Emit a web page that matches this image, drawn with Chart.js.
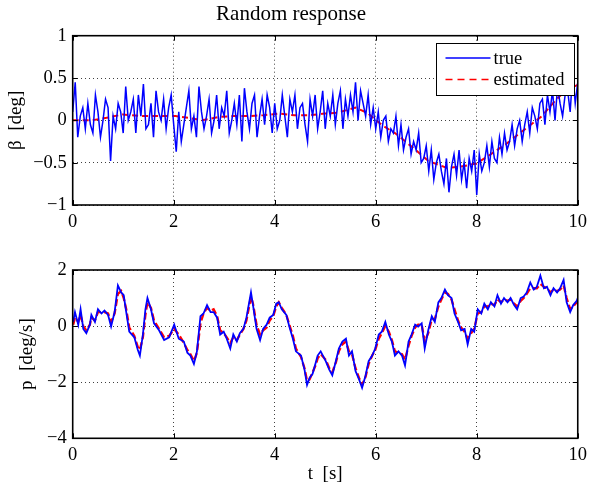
<!DOCTYPE html>
<html>
<head>
<meta charset="utf-8">
<title>Random response</title>
<script src="https://cdn.jsdelivr.net/npm/chart.js@4.4.1/dist/chart.umd.min.js"></script>
<style>
    body { margin: 0; background: #fff; }
    .panel { position: absolute; left: 0; width: 593px; height: 245px; }
    #top { top: 0; }
    #bottom { top: 245px; }
</style>
</head>
<body>
<div class="panel" id="top"><canvas id="betaChart"></canvas></div>
<div class="panel" id="bottom"><canvas id="pChart"></canvas></div>
<script>
// x ticks shared by both panels
const timeTicks = [0, 2, 4, 6, 8, 10];
const betaTicks = [-1, -0.5, 0, 0.5, 1];
const pTicks = [-4, -2, 0, 2];

// sideslip angle, sampled every 0.05 s
const betaTime = Array.from({ length: 201 }, (_, i) => i * 0.05);
const betaTrue = [
    0.1, 0.45, -0.2, 0.05, 0.15, -0.1, 0.2, -0.05, -0.15, 0.3,
    0.1, -0.2, 0.0, 0.25, 0.15, -0.48, 0.05, -0.1, 0.2, 0.1,
    -0.15,
    0.4, 0.0, 0.1, 0.25, -0.15, 0.3, 0.05, 0.43, -0.1, -0.05,
    0.2, -0.2, 0.35, 0.1, 0.0, 0.25, -0.1, 0.15, 0.3, -0.05,
    -0.37, 0.1, -0.25, -0.05, 0.15, 0.35, -0.1, 0.05, -0.2, 0.4,
    0.1, -0.1, 0.05, 0.25, -0.15, 0.0, 0.3, -0.1, 0.15, 0.05,
    0.35, -0.15, 0.0, 0.2, -0.05, 0.3, -0.25, 0.38, 0.1, -0.1,
    0.2, 0.3, -0.2, 0.05, 0.25, -0.05, 0.3, 0.15, -0.15, 0.2,
    -0.1, 0.0, 0.3, 0.05, -0.2, 0.25, 0.1, 0.3, -0.1, 0.15,
    0.2, -0.05, -0.25, 0.25, 0.05, 0.3, -0.1, 0.1, 0.35, -0.1,
    0.2, 0.05, 0.3, -0.05, 0.2, 0.35, -0.1, 0.25, 0.05, 0.3,
    0.1, 0.45, 0.0, 0.35, 0.2, 0.05, 0.3, -0.05, 0.15, -0.1,
    0.1, -0.2, 0.0, 0.05, -0.25, -0.1, -0.15, 0.05, -0.3, -0.05,
    -0.35, -0.2, -0.1, -0.4, -0.25, -0.35, -0.15, -0.5, -0.45, -0.3,
    -0.6, -0.35, -0.7, -0.5, -0.4, -0.6, -0.75, -0.45, -0.85, -0.55,
    -0.4, -0.65, -0.35, -0.7, -0.5, -0.8, -0.45, -0.6, -0.35, -0.88,
    -0.4, -0.6, -0.5, -0.3, -0.55, -0.25, -0.45, -0.5, -0.2, -0.4,
    -0.15, -0.35, -0.25, -0.05, -0.3, -0.1, 0.0, -0.25, -0.05, 0.1,
    -0.15, 0.15, 0.05, -0.1, 0.2, 0.25, -0.05, 0.3, 0.1, 0.35,
    0.0, 0.4, 0.2, 0.05, 0.3, 0.35, 0.1, 0.55, 0.2, 0.45
];
const betaEstTime = [
    0, 0.37, 0.67, 0.99, 1.39, 1.71, 2.04, 2.3, 2.56, 2.89,
    3.18, 3.48, 3.77, 4.08, 4.39, 4.69, 4.98, 5.24, 5.6, 5.83,
    6.03, 6.16, 6.38, 6.61, 6.81, 7.04, 7.4, 7.66, 7.99, 8.18,
    8.38, 8.58, 8.77, 9.03, 9.29, 9.55, 9.75, 10
];
const betaEst = [
    0, 0, 0.03, 0.07, 0.05, 0.05, 0.05, 0.03, 0, 0.04,
    0.05, 0.05, 0.06, 0.08, 0.06, 0.06, 0.08, 0.09, 0.15, 0.09,
    -0.01, -0.07, -0.15, -0.26, -0.36, -0.48, -0.56, -0.55, -0.51, -0.44,
    -0.36, -0.28, -0.19, -0.07, 0.05, 0.23, 0.35, 0.42
];

// roll rate
const pTime = [
    0.01, 0.045, 0.11, 0.156, 0.21, 0.27, 0.34, 0.37, 0.44, 0.5,
    0.57, 0.63, 0.7, 0.76, 0.83, 0.895, 0.96, 1.01, 1.06, 1.12,
    1.22, 1.29, 1.33, 1.39, 1.44, 1.48, 1.55, 1.61, 1.71, 1.81,
    1.91, 2.01, 2.1, 2.2, 2.27, 2.33, 2.4, 2.46, 2.53, 2.59,
    2.66, 2.73, 2.79, 2.86, 2.92, 2.99, 3.05, 3.12, 3.18, 3.25,
    3.31, 3.38, 3.44, 3.53, 3.57, 3.64, 3.71, 3.77, 3.84, 3.9,
    3.97, 4.03, 4.08, 4.14, 4.23, 4.29, 4.36, 4.42, 4.52, 4.59,
    4.64, 4.69, 4.75, 4.82, 4.85, 4.91, 5.01, 5.08, 5.14, 5.21,
    5.27, 5.34, 5.41, 5.47, 5.53, 5.6, 5.67, 5.73, 5.8, 5.86,
    5.93, 5.99, 6.06, 6.12, 6.19, 6.26, 6.32, 6.38, 6.45, 6.52,
    6.58, 6.65, 6.71, 6.78, 6.84, 6.91, 6.97, 7.04, 7.11, 7.17,
    7.24, 7.3, 7.37, 7.43, 7.5, 7.56, 7.63, 7.69, 7.76, 7.82,
    7.89, 7.95, 8.02, 8.09, 8.15, 8.22, 8.28, 8.35, 8.41, 8.48,
    8.54, 8.61, 8.67, 8.74, 8.8, 8.87, 8.93, 8.99, 9.06, 9.13,
    9.19, 9.26, 9.33, 9.39, 9.46, 9.52, 9.59, 9.65, 9.72, 9.78,
    9.85, 9.91, 9.98, 10
];
const pTrue = [
    0.15, 0.5, 0.05, 0.6, -0.1, -0.25, 0.05, 0.4, 0.15, 0.6,
    0.45, 0.55, 0.4, -0.02, 0.5, 1.45, 1.2, 1.1, 0.5, -0.2,
    -0.4, -0.85, -1.05, -0.3, 0.6, 1.0, 0.6, 0.1, -0.15, -0.5,
    -0.4, 0.05, -0.45, -0.55, -0.95, -1.05, -1.35, -0.9, 0.35, 0.45,
    0.75, 0.5, 0.5, 0.3, -0.3, -0.2, -0.45, -0.8, -0.3, -0.55,
    -0.25, -0.1, 0.3, 1.2, 0.75, -0.1, -0.5, -0.1, 0.05, 0.3,
    0.4, 0.8, 0.85, 0.6, 0.4, -0.02, -0.45, -0.9, -1.05, -1.55,
    -2.1, -1.85, -1.7, -1.25, -1.05, -0.9, -1.25, -1.55, -1.75, -1.25,
    -0.8, -0.55, -0.45, -1.05, -0.9, -1.6, -1.9, -2.2, -1.75, -1.25,
    -1.05, -0.8, -0.3, -0.2, 0.15, -0.3, -0.55, -1.05, -0.9, -1.05,
    -1.4, -0.55, -0.3, 0.05, -0.02, 0.1, -0.8, -0.15, 0.35, 0.15,
    0.85, 1.0, 1.3, 1.1, 1.0, 0.45, 0.15, -0.15, -0.1, -0.65,
    -0.1, -0.2, 0.6, 0.45, 0.8, 0.6, 0.85, 0.7, 1.1, 0.8,
    1.0, 0.85, 1.0, 0.75, 0.6, 1.0, 1.05, 1.2, 1.55, 1.3,
    1.4, 1.8, 1.35, 1.4, 1.1, 1.35, 1.2, 1.35, 1.65, 0.85,
    0.5, 0.75, 0.9, 1.0
];
const pEst = [
    0.05, 0.3, 0.15, 0.4, 0.0, -0.15, 0.05, 0.3, 0.2, 0.5,
    0.5, 0.5, 0.45, 0.15, 0.45, 1.15, 1.25, 1.0, 0.6, -0.05,
    -0.35, -0.75, -0.85, -0.4, 0.4, 0.85, 0.65, 0.2, -0.1, -0.4,
    -0.35, -0.1, -0.3, -0.6, -0.85, -1.0, -1.25, -0.95, 0.1, 0.45,
    0.65, 0.55, 0.6, 0.35, -0.15, -0.25, -0.4, -0.6, -0.4, -0.5,
    -0.3, -0.1, 0.2, 1.05, 0.8, 0.05, -0.3, -0.15, -0.05, 0.2,
    0.35, 0.7, 0.85, 0.65, 0.4, 0.05, -0.35, -0.8, -1.1, -1.5,
    -1.95, -1.9, -1.65, -1.35, -1.15, -1.0, -1.2, -1.5, -1.65, -1.3,
    -0.9, -0.65, -0.55, -0.9, -1.0, -1.5, -1.85, -2.1, -1.8, -1.35,
    -1.05, -0.85, -0.45, -0.25, 0.0, -0.2, -0.5, -0.9, -0.95, -1.0,
    -1.2, -0.7, -0.35, -0.05, 0.05, 0.05, -0.55, -0.25, 0.25, 0.25,
    0.7, 0.95, 1.2, 1.15, 0.95, 0.6, 0.2, -0.05, -0.2, -0.45,
    -0.25, -0.1, 0.45, 0.5, 0.7, 0.7, 0.8, 0.75, 0.95, 0.85,
    0.95, 0.9, 0.95, 0.8, 0.7, 0.9, 1.0, 1.15, 1.35, 1.35,
    1.35, 1.5, 1.4, 1.35, 1.2, 1.3, 1.25, 1.3, 1.45, 1.0,
    0.6, 0.7, 0.85, 0.9
];

Chart.defaults.font.family = "'Liberation Serif', 'Times New Roman', serif";
Chart.defaults.font.size = 18.5;
Chart.defaults.color = '#000';

function toPoints(xs, ys) {
    return xs.map((x, i) => ({ x: x, y: ys[i] }));
}

function formatTick(value) {
    const v = Math.round(value * 100) / 100;
    return v < 0 ? '\u2212' + Math.abs(v) : String(v);
}

// MATLAB style box with inward ticks on all four sides
const framePlugin = {
    id: 'frame',
    afterDatasetsDraw(chart) {
        const { ctx, chartArea: a, scales } = chart;
        ctx.save();
        ctx.strokeStyle = '#000';
        ctx.lineWidth = 1;
        ctx.beginPath();
        scales.x.ticks.forEach(t => {
            const px = Math.round(scales.x.getPixelForValue(t.value)) + 0.5;
            ctx.moveTo(px, a.bottom); ctx.lineTo(px, a.bottom - 5);
            ctx.moveTo(px, a.top); ctx.lineTo(px, a.top + 5);
        });
        scales.y.ticks.forEach(t => {
            const py = Math.round(scales.y.getPixelForValue(t.value)) + 0.5;
            ctx.moveTo(a.left, py); ctx.lineTo(a.left + 5, py);
            ctx.moveTo(a.right, py); ctx.lineTo(a.right - 5, py);
        });
        ctx.stroke();
        ctx.lineWidth = 1.6;
        ctx.strokeRect(a.left, a.top, a.width, a.height);
        ctx.restore();
    }
};

const boxLegendPlugin = {
    id: 'boxLegend',
    afterDraw(chart) {
        const ctx = chart.ctx;
        const x0 = 436.5, y0 = 43.5, w = 138, h = 52;
        ctx.save();
        ctx.fillStyle = '#fff';
        ctx.fillRect(x0, y0, w, h);
        ctx.strokeStyle = '#000';
        ctx.lineWidth = 1;
        ctx.strokeRect(x0, y0, w, h);
        ctx.font = "18.5px 'Liberation Serif', serif";
        ctx.textBaseline = 'middle';
        chart.data.datasets.forEach((ds, i) => {
            const y = y0 + 14.5 + i * 21.5;
            ctx.strokeStyle = ds.borderColor;
            ctx.lineWidth = 1.5;
            ctx.setLineDash(ds.borderDash ? [7, 5] : []);
            ctx.beginPath();
            ctx.moveTo(x0 + 9, y);
            ctx.lineTo(x0 + 54, y);
            ctx.stroke();
            ctx.setLineDash([]);
            ctx.fillStyle = '#000';
            ctx.fillText(ds.label, x0 + 57, y + 1);
        });
        ctx.restore();
    }
};

function makeScales(yMin, yMax, yTicks, yTitle, yTitlePad, xHeight, xTitle) {
    return {
        x: {
            type: 'linear',
            min: 0,
            max: 10,
            afterBuildTicks: scale => { scale.ticks = timeTicks.map(v => ({ value: v })); },
            afterFit: scale => { scale.height = xHeight; },
            ticks: { autoSkip: false, maxRotation: 0, padding: 6, callback: formatTick },
            grid: { color: 'rgba(0,0,0,0.75)', lineWidth: 1, drawTicks: false },
            border: { display: false, dash: [1, 3] },
            title: {
                display: !!xTitle,
                text: xTitle || '',
                font: { size: 19 },
                padding: { top: 0, bottom: 4.5 }
            }
        },
        y: {
            type: 'linear',
            min: yMin,
            max: yMax,
            afterBuildTicks: scale => { scale.ticks = yTicks.map(v => ({ value: v })); },
            afterFit: scale => { scale.width = 72.7; },
            ticks: { autoSkip: false, padding: 6, callback: formatTick },
            grid: { color: 'rgba(0,0,0,0.75)', lineWidth: 1, drawTicks: false },
            border: { display: false, dash: [1, 3] },
            title: {
                display: true,
                text: yTitle,
                font: { size: 19 },
                padding: { top: yTitlePad, bottom: 0 }
            }
        }
    };
}

const commonOptions = {
    responsive: false,
    animation: false,
    events: [],
    elements: { point: { radius: 0 }, line: { tension: 0 } }
};

function buildChart(canvasId, datasets, scales, padding, title, plugins) {
    const canvas = document.getElementById(canvasId);
    canvas.width = 593;
    canvas.height = 245;
    return new Chart(canvas.getContext('2d'), {
        type: 'line',
        data: { datasets: datasets },
        options: {
            ...commonOptions,
            layout: { padding: padding },
            scales: scales,
            plugins: {
                legend: { display: false },
                tooltip: { enabled: false },
                title: title
            }
        },
        plugins: plugins
    });
}

buildChart('betaChart', [
    {
        label: 'true',
        data: toPoints(betaTime, betaTrue),
        borderColor: '#0000ff',
        borderWidth: 1.5
    },
    {
        label: 'estimated',
        data: toPoints(betaEstTime, betaEst),
        borderColor: '#ff0000',
        borderWidth: 2,
        borderDash: [6, 4]
    }
], makeScales(-1, 1, betaTicks, '\u03b2  [deg]', 4.6, 40, null),
    { left: 0, right: 11, top: 0, bottom: 0 },
    {
        display: true,
        text: 'Random response',
        font: { size: 21, weight: 'normal' },
        padding: { top: 1.4, bottom: 9.1 }
    },
    [framePlugin, boxLegendPlugin]);

buildChart('pChart', [
    {
        label: 'true',
        data: toPoints(pTime, pTrue),
        borderColor: '#0000ff',
        borderWidth: 1.8
    },
    {
        label: 'estimated',
        data: toPoints(pTime, pEst),
        borderColor: '#ff0000',
        borderWidth: 2.3,
        borderDash: [7, 3]
    }
], makeScales(-4, 2, pTicks, 'p  [deg/s]', 15.6, 51.7, 't  [s]'),
    { left: 0, right: 11, top: 25, bottom: 0 },
    { display: false },
    [framePlugin]);
</script>
</body>
</html>
